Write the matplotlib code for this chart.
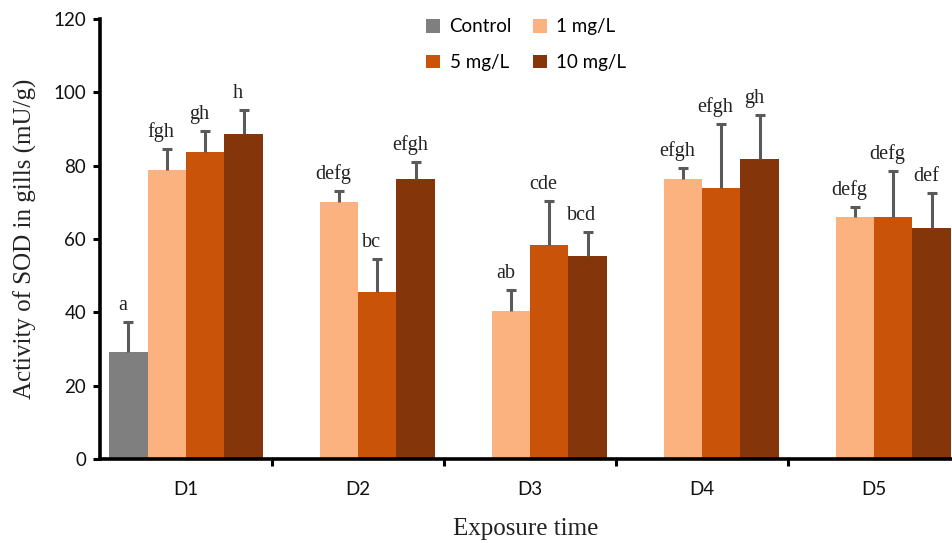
import numpy as np
import matplotlib
matplotlib.use("Agg")
import matplotlib.pyplot as plt
from matplotlib.ticker import FixedLocator

days = ["D1", "D2", "D3", "D4", "D5"]
series = ["Control", "1 mg/L", "5 mg/L", "10 mg/L"]
control = [29.1, np.nan, np.nan, np.nan, np.nan]
c1 = [78.8, 70.2, 40.5, 76.3, 65.9]
c5 = [83.8, 45.6, 58.5, 73.8, 66.1]
c10 = [88.7, 76.3, 55.4, 81.8, 62.9]
err_control = [8.2, np.nan, np.nan, np.nan, np.nan]
err1 = [5.7, 3.0, 5.6, 3.2, 2.9]
err5 = [5.7, 8.9, 11.9, 17.5, 12.4]
err10 = [6.4, 4.7, 6.4, 12.1, 9.6]
lab_control = ["a", "", "", "", ""]
lab1 = ["fgh", "defg", "ab", "efgh", "defg"]
lab5 = ["gh", "bc", "cde", "efgh", "defg"]
lab10 = ["h", "efgh", "bcd", "gh", "def"]
yticks = [0, 20, 40, 60, 80, 100, 120]

colors = ["#7f7f7f", "#fbb27f", "#c85309", "#843509"]
values = [control, c1, c5, c10]
errors = [err_control, err1, err5, err10]
labels = [lab_control, lab1, lab5, lab10]

W, H = 952, 543
fig = plt.figure(figsize=(W / 100, H / 100), dpi=100)
ax = fig.add_axes([100 / W, (H - 459) / H, (W - 100) / W, 440 / H])

x = np.arange(len(days))
bw = 0.223
offsets = [-1.5, -0.5, 0.5, 1.5]
handles = []
for vals, errs, labs, col, name, off in zip(values, errors, labels, colors, series, offsets):
    vals = np.array(vals, dtype=float)
    errs = np.array(errs, dtype=float)
    xs = x + off * bw
    h = ax.bar(xs, vals, width=bw, color=col, label=name, zorder=2)
    handles.append(h)
    ok = ~np.isnan(vals)
    _, caps, _ = ax.errorbar(xs[ok], vals[ok], yerr=[np.zeros(ok.sum()), errs[ok]], fmt="none",
                             ecolor="#5a5a5a", elinewidth=2.2, capsize=3.5, capthick=2.2, zorder=3)
    for cl in caps:
        yd = np.asarray(cl.get_ydata(), dtype=float)
        if np.allclose(yd, vals[ok]):
            cl.set_visible(False)
    for xi, v, e, t, k in zip(xs, vals, errs, labs, ok):
        if k and t:
            ax.annotate(t, (xi, v + e), xytext=(-4, 5), textcoords="offset points",
                        ha="center", va="bottom", fontsize=14.5,
                        family="Liberation Serif", color="#222222")

ax.set_ylim(0, 120)
ax.set_xlim(-0.5, -0.5 + 852 / 172)
ax.set_yticks(yticks)
ax.set_xticks(x)
ax.set_xticklabels(days)
ax.xaxis.set_minor_locator(FixedLocator(x[:-1] + 0.5))
ax.tick_params(axis="x", which="major", length=0, pad=16)
ax.tick_params(axis="x", which="minor", length=5, width=2.2, direction="out")
ax.tick_params(axis="y", which="major", length=5, width=2.2, direction="out", pad=5)
for lbl in ax.get_xticklabels() + ax.get_yticklabels():
    lbl.set_family("Lato")
    lbl.set_fontsize(13.5)
    lbl.set_color("#111111")

for s in ["top", "right"]:
    ax.spines[s].set_visible(False)
for s in ["left", "bottom"]:
    ax.spines[s].set_linewidth(2.6)
    ax.spines[s].set_color("black")

ax.set_ylabel("Activity of SOD in gills (mU/g)", family="Liberation Serif", fontsize=18,
              labelpad=12, color="#222222")
ax.set_xlabel("Exposure time", family="Liberation Serif", fontsize=18, labelpad=14,
              color="#222222")

order = [0, 2, 1, 3]
leg = ax.legend([handles[i] for i in order], [series[i] for i in order],
                loc="upper center", bbox_to_anchor=(0.5, 1.04), ncol=2, frameon=False,
                prop={"family": "Lato", "size": 13.5}, handlelength=0.75, handleheight=0.75,
                handletextpad=0.5, columnspacing=1.1, labelspacing=1.0)

fig.savefig("out.png", dpi=100)
